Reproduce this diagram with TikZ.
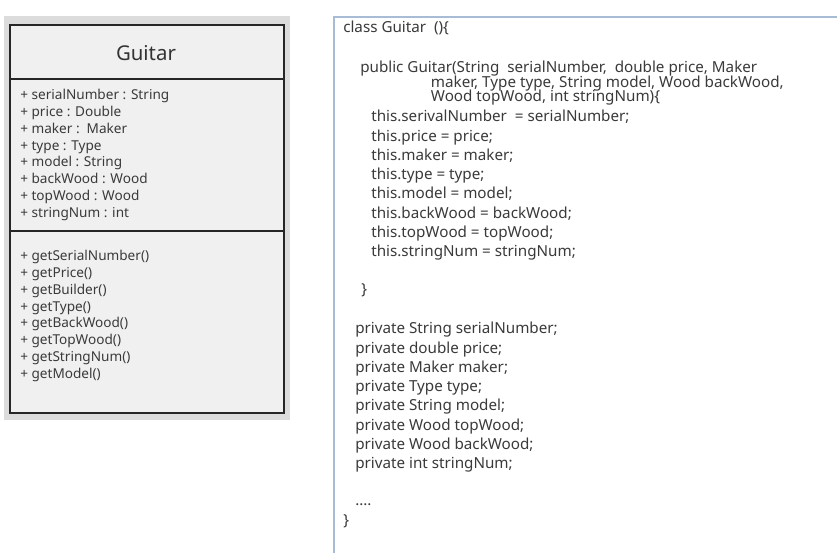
\documentclass[tikz,border=0pt]{standalone}
\usepackage{fontspec}
\setmainfont{Noto Sans}
\usetikzlibrary{positioning}
\definecolor{panelgray}{HTML}{DCDCDC}
\definecolor{boxfill}{HTML}{F0F0F0}
\definecolor{codeedge}{HTML}{A8BCD4}
\definecolor{inkgray}{HTML}{3A3A3A}

\begin{document}
\begin{tikzpicture}[x=0.75pt, y=-0.75pt,
    umltext/.style={anchor=north west, inner sep=0pt, align=left, text=inkgray, font=\fontsize{10.2pt}{12.6pt}\selectfont},
    codetext/.style={anchor=north west, inner sep=0pt, align=left, text=inkgray, font=\fontsize{11.4pt}{14.45pt}\selectfont},
    frame/.style={line width=1.6pt, draw=black!85}
]
\useasboundingbox[fill=white] (0,0) rectangle (837,553);

% class diagram
\fill[panelgray] (4,16) rectangle (290,420);
\draw[frame, fill=boxfill] (10,25) rectangle (284,413);
\draw[frame] (10,79) -- (284,79);
\draw[frame] (10,231) -- (284,231);

\node[text=black!80, font=\fontsize{15.3pt}{18pt}\selectfont] (title) at (146,53) {Guitar};
\node[umltext] (attrs) at (20,89) {+ serialNumber : String\\+ price : Double\\+ maker :\ \ Maker\\+ type : Type\\+ model : String\\+ backWood : Wood\\+ topWood : Wood\\+ stringNum : int};
\node[umltext] (ops) at (20,250) {+ getSerialNumber()\\+ getPrice()\\+ getBuilder()\\+ getType()\\+ getBackWood()\\+ getTopWood()\\+ getStringNum()\\+ getModel()};

% code panel
\fill[white] (334,17) rectangle (837,553);
\draw[codeedge, line width=1.2pt] (334,553) -- (334,17) -- (837,17);

\node[codetext] (head) at (343,21) {class Guitar\ \ ()\{};
\node[codetext] (ctor) at (360,61) {public Guitar(String\ \ serialNumber,\ \ double price, Maker\\[-3.6pt]
  \hspace*{53pt}maker, Type type, String model, Wood backWood,\\[-3.6pt]
  \hspace*{53pt}Wood topWood, int stringNum)\{};
\node[codetext] (body) at (371,110) {this.serivalNumber\ \ = serialNumber;\\this.price = price;\\this.maker = maker;\\this.type = type;\\this.model = model;\\this.backWood = backWood;\\this.topWood = topWood;\\this.stringNum = stringNum;};
\node[codetext] (close) at (361,283) {\}};
\node[codetext] (fields) at (355,322) {private String serialNumber;\\private double price;\\private Maker maker;\\private Type type;\\private String model;\\private Wood topWood;\\private Wood backWood;\\private int stringNum;};
\node[codetext] (dots) at (355,503) {....};
\node[codetext] (end) at (343,514) {\}};

\end{tikzpicture}
\end{document}
